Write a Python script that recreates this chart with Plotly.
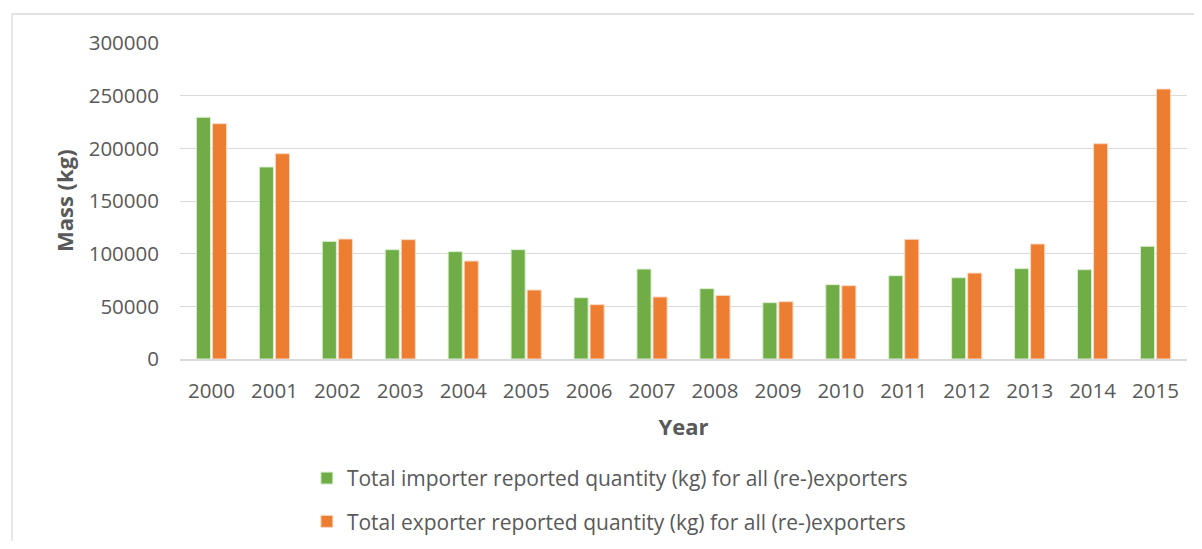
import plotly.graph_objects as go

years = [str(y) for y in range(2000, 2016)]
importer = [229500, 182300, 111700, 103800, 101900, 103800, 58200, 85400,
            66800, 53500, 70600, 79100, 77200, 85800, 84800, 107000]
exporter = [223400, 194900, 113900, 113300, 93000, 65500, 51600, 58900,
            60400, 54400, 69600, 113600, 81600, 109200, 204400, 256300]
name_imp = "Total importer reported quantity (kg) for all (re-)exporters"
name_exp = "Total exporter reported quantity (kg) for all (re-)exporters"
y_ticks = [0, 50000, 100000, 150000, 200000, 250000, 300000]

FONT = "Open Sans"
TXT = "#595959"

# page body has an 8px margin; figure is sized so the page fits the window
W, H = 1186, 533
L, T = 172, 35
PW, PH = 1007, 316

fig = go.Figure()
fig.add_trace(go.Bar(x=years, y=importer, name=name_imp, legendgroup="a",
                     marker=dict(color="#70AD47", line=dict(color="#dcefd2", width=1))))
fig.add_trace(go.Bar(x=years, y=exporter, name=name_exp, legendgroup="b",
                     marker=dict(color="#ED7D31", line=dict(color="#fbd9c4", width=1))))

fig.update_layout(
    width=W, height=H,
    margin=dict(l=L, r=W - L - PW, t=T, b=H - T - PH, autoexpand=False),
    paper_bgcolor="white", plot_bgcolor="white",
    barmode="group", bargap=0.49, bargroupgap=0.12,
    font=dict(family=FONT, color=TXT, size=20),
    showlegend=True,
    legend=dict(orientation="v", x=0.126, xanchor="left", y=-0.313, yanchor="top",
                font=dict(size=21, color=TXT), tracegroupgap=13,
                itemwidth=30, bgcolor="rgba(0,0,0,0)"),
    xaxis=dict(
        type="category", showgrid=False, showline=True, linecolor="#d9d9d9", linewidth=2,
        ticks="", ticklabelstandoff=12, tickfont=dict(size=20.5, color=TXT),
        title=dict(text="<b>Year</b>", font=dict(size=22, color=TXT), standoff=17),
    ),
    yaxis=dict(
        range=[0, 300000], tickvals=y_ticks, ticktext=[str(v) for v in y_ticks],
        showgrid=True, gridcolor="#d9d9d9", gridwidth=1.3, zeroline=False,
        showline=False, ticks="", ticklabelstandoff=20,
        tickfont=dict(size=20.5, color=TXT),
    ),
    annotations=[dict(text="<b>Mass (kg)</b>", xref="paper", yref="paper",
                      x=(64 - 180) / PW, y=0.5, textangle=-90,
                      showarrow=False, font=dict(size=22, color=TXT),
                      xanchor="center", yanchor="middle")],
    shapes=[dict(type="rect", xref="paper", yref="paper",
                 x0=(12 - 180) / PW, x1=1.05, y0=-0.7, y1=(359 - 14) / PH,
                 line=dict(color="#d9d9d9", width=1.3), fillcolor="rgba(0,0,0,0)",
                 layer="below")],
)

fig.write_html("out.html")
